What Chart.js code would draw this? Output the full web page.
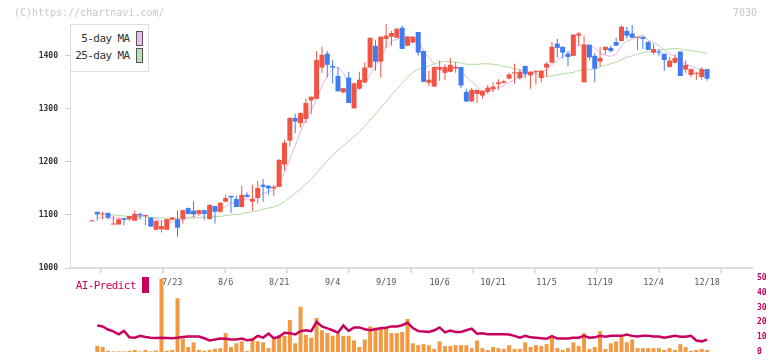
<!DOCTYPE html>
<html>
<head>
<meta charset="utf-8">
<script src="https://cdn.jsdelivr.net/npm/chart.js@4.4.1/dist/chart.umd.min.js"></script>
<style>
  body { margin: 0; background: #fff; }
  #wrap { position: relative; width: 772px; height: 361px; overflow: hidden; font-family: "DejaVu Sans Mono", monospace; }
  canvas { position: absolute; left: 0; top: 0; }
  .copy { position: absolute; left: 14px; top: 7px; font-size: 10px; line-height: 12px; color: #c8c8c8; }
  .code { position: absolute; right: 15px; top: 7px; font-size: 10px; line-height: 12px; color: #c8c8c8; }
  .maBox { position: absolute; left: 70px; top: 24px; width: 79px; height: 48px; box-sizing: border-box;
           border: 1.5px solid #ddd; background: #fff; }
  .maRow { position: absolute; right: 18.5px; font-size: 11px; letter-spacing: -0.6px; line-height: 12px; color: #333; }
  .sw { position: absolute; left: 64.5px; width: 7px; height: 15px; box-sizing: border-box; border: 1px solid #555; }
  .aiText { position: absolute; left: 75.7px; top: 280px; font-size: 11px; letter-spacing: -0.6px; line-height: 12px; color: #c8005f; }
  .aiBox { position: absolute; left: 142px; top: 277px; width: 7px; height: 16px; background: #c8005f; }
</style>
</head>
<body>
<div id="wrap">
  <canvas id="priceChart" width="772" height="361"></canvas>
  <canvas id="volChart" width="772" height="361"></canvas>
  <div class="copy">(C)https://chartnavi.com/</div>
  <div class="code">7030</div>
  <div class="maBox">
    <div class="maRow" style="top:7.5px">5-day MA</div>
    <div class="sw" style="top:5.5px;background:#f0bcf0"></div>
    <div class="maRow" style="top:24.5px">25-day MA</div>
    <div class="sw" style="top:22.5px;background:#b8e0b0"></div>
  </div>
  <div class="aiText">AI-Predict</div>
  <div class="aiBox"></div>
</div>
<script>
// trading days, 2025-07-01 .. 2025-12-18
const dates = [
  '7/1','7/2','7/3','7/4','7/7','7/8','7/9','7/10','7/11','7/14','7/15','7/16','7/17','7/18','7/22','7/23','7/24','7/25','7/28','7/29','7/30','7/31',
  '8/1','8/4','8/5','8/6','8/7','8/8','8/12','8/13','8/14','8/15','8/18','8/19','8/20','8/21','8/22','8/25','8/26','8/27','8/28','8/29',
  '9/1','9/2','9/3','9/4','9/5','9/8','9/9','9/10','9/11','9/12','9/16','9/17','9/18','9/19','9/22','9/24','9/25','9/26','9/29','9/30',
  '10/1','10/2','10/3','10/6','10/7','10/8','10/9','10/10','10/14','10/15','10/16','10/17','10/20','10/21','10/22','10/23','10/24','10/27','10/28','10/29','10/30','10/31',
  '11/4','11/5','11/6','11/7','11/10','11/11','11/12','11/13','11/14','11/17','11/18','11/19','11/20','11/21','11/25','11/26','11/27','11/28',
  '12/1','12/2','12/3','12/4','12/5','12/8','12/9','12/10','12/11','12/12','12/15','12/16','12/17','12/18'
];

const open = [1088,1106,1101,1104,1082,1082,1094,1092,1089,1102, 1098,1095,1072,1073,1072,1091,1092,1092,1113,1108,
  1102,1109,1092,1117,1106,1125,1136,1130,1115,1138, 1125,1132,1157,1155,1150,1153,1195,1240,1283,1273,
  1281,1316,1319,1378,1404,1381,1362,1331,1359,1301, 1338,1350,1378,1419,1389,1432,1436,1434,1453,1419,
  1425,1445,1409,1349,1342,1374,1368,1370,1376,1379, 1332,1314,1328,1325,1332,1337,1347,1349,1357,1367,
  1358,1381,1363,1370,1358,1378,1387,1423,1417,1404, 1400,1438,1350,1421,1400,1389,1411,1415,1426,1428,
  1447,1442,1434,1436,1426,1406,1408,1404,1379,1387, 1408,1374,1364,1366,1360,1375];
const high = [1088,1106,1106,1104,1098,1094,1094,1098,1108,1104, 1101,1095,1090,1089,1093,1096,1109,1110,1114,1126,
  1110,1110,1120,1117,1124,1138,1136,1136,1155,1143, 1157,1164,1168,1156,1157,1205,1242,1284,1291,1293,
  1319,1323,1409,1417,1409,1392,1379,1340,1370,1350, 1370,1388,1434,1430,1437,1460,1447,1453,1457,1437,
  1437,1445,1410,1372,1380,1391,1384,1396,1389,1379, 1338,1340,1336,1335,1345,1350,1356,1355,1368,1385,
  1374,1381,1371,1373,1373,1388,1426,1432,1417,1409, 1441,1445,1438,1421,1405,1417,1417,1419,1434,1457,
  1455,1458,1436,1436,1428,1423,1413,1404,1398,1402, 1408,1391,1376,1370,1379,1375];
const low = [1088,1089,1092,1092,1082,1082,1080,1089,1089,1091, 1080,1078,1072,1067,1072,1090,1059,1084,1101,1095,
  1100,1091,1092,1084,1105,1124,1104,1115,1114,1133, 1108,1121,1125,1138,1136,1152,1184,1229,1254,1265,
  1274,1291,1318,1368,1359,1348,1333,1330,1311,1300, 1337,1349,1377,1372,1359,1415,1419,1433,1413,1418,
  1424,1400,1350,1343,1341,1353,1355,1369,1368,1339, 1313,1313,1311,1319,1328,1332,1336,1348,1356,1348,
  1355,1358,1338,1346,1350,1360,1386,1397,1395,1381, 1399,1419,1350,1391,1350,1380,1402,1406,1419,1427,
  1432,1434,1411,1413,1411,1402,1400,1372,1378,1386, 1362,1368,1360,1355,1355,1353];
const close = [1088,1101,1102,1095,1083,1092,1091,1098,1102,1099, 1099,1078,1089,1079,1092,1095,1076,1109,1102,1101,
  1109,1102,1119,1106,1123,1132,1133,1115,1138,1134, 1130,1151,1153,1150,1153,1204,1236,1283,1276,1292,
  1311,1323,1392,1402,1383,1378,1333,1339,1311,1348, 1355,1378,1434,1389,1436,1438,1443,1451,1413,1436,
  1436,1406,1351,1355,1379,1379,1379,1383,1379,1344, 1314,1336,1336,1334,1340,1342,1350,1352,1365,1368,
  1370,1366,1370,1372,1372,1385,1417,1415,1406,1398, 1440,1442,1421,1397,1376,1396,1417,1409,1419,1455,
  1438,1434,1436,1432,1411,1413,1406,1392,1391,1396, 1362,1383,1375,1368,1375,1357];

const ma5 = [null,1095,1095,1094,1094,1095,1093,1092,1093,1096, 1098,1095,1093,1089,1087,1087,1086,1090,1095,1097,
  1099,1105,1107,1107,1112,1116,1123,1122,1128,1130, 1130,1134,1141,1144,1147,1162,1179,1205,1230,1258,
  1280,1297,1319,1344,1362,1376,1378,1367,1349,1342, 1337,1346,1365,1381,1398,1415,1428,1431,1436,1436,
  1436,1428,1408,1397,1385,1374,1369,1375,1380,1373, 1360,1351,1342,1333,1332,1338,1340,1344,1350,1355,
  1361,1364,1368,1369,1370,1373,1383,1392,1399,1404, 1415,1420,1421,1420,1415,1406,1401,1399,1403,1419,
  1428,1431,1436,1439,1430,1425,1420,1411,1403,1400, 1389,1385,1381,1377,1373,1372];
const ma25 = [null,null,null,1100,1100,1099,1098,1097,1097,1097, 1096,1095,1095,1094,1094,1094,1094,1094,1094,1094,
  1095,1096,1096,1097,1097,1099,1100,1101,1102,1105, 1106,1108,1111,1113,1115,1119,1125,1133,1141,1149,
  1158,1167,1179,1191,1202,1213,1222,1231,1239,1248, 1257,1267,1279,1290,1302,1314,1326,1338,1348,1359,
  1369,1375,1378,1381,1385,1388,1390,1389,1388,1387, 1384,1384,1384,1385,1385,1384,1383,1380,1379,1376,
  1374,1371,1367,1366,1363,1361,1362,1364,1366,1367, 1369,1372,1373,1374,1375,1379,1382,1385,1388,1393,
  1397,1400,1403,1406,1408,1409,1411,1412,1413,1414, 1413,1411,1410,1408,1407,1404];

const volume = [null,4.2,3.4,0.8,0.4,0.4,0.4,0.8,1.4,0.4, 1.4,0.4,1.0,49.5,0.8,1.4,36.3,9,3.4,6.5,
  1.4,0.8,1.4,2.2,2.6,12.8,3.4,5.9,7.2,0.6, 8.9,7.2,6.5,2.6,9.7,11.6,10.9,21.7,5.9,30.6,
  11.6,9.7,23.0,14.7,12.8,10.9,12.2,10.9,10.9,7.8, 3.4,8.4,17.3,16.6,16.6,16.6,12.8,12.8,13.5,22.3,
  5.9,4.6,5.3,4.6,2.1,7.2,4.0,4.0,4.6,4.6, 4.6,2.6,7.8,2.6,1.4,3.4,2.6,2.1,4.6,2.1,
  2.1,6.5,3.4,4.6,4.0,5.3,9.7,2.6,1.4,2.6, 6.5,4.0,12.8,2.1,3.4,14.1,2.1,5.9,7.2,10.3,
  6.5,8.4,2.6,2.6,2.6,2.6,2.6,1.4,2.6,1.4, 5.3,3.4,0.8,1.4,2.1,1.4];
const aiPredict = [null,17.9,17.3,15.2,13.9,12.0,14.3,9.9,9.7,10.9, 10.1,9.7,9.5,9.7,9.5,9.3,9.7,10.1,10.5,10.5,
  10.5,9.3,7.8,8.4,9.1,8.9,8.4,8.4,9.1,8.0, 8.4,10.9,9.7,12.4,9.3,10.3,13.0,12.6,11.8,14.1,
  14.7,14.1,20.4,17.3,16.0,14.7,13.0,17.9,14.3,16.6, 16.6,15.4,14.7,15.4,16.0,16.4,17.3,17.3,18.1,19.8,
  16.2,14.1,13.9,13.5,14.7,16.6,13.3,14.5,13.5,13.5, 14.7,15.8,12.4,12.6,12.0,12.0,12.0,12.0,11.8,10.9,
  9.7,10.9,9.9,9.7,9.3,8.9,10.7,9.1,9.1,9.1, 9.7,9.7,10.9,9.7,9.9,10.9,10.3,10.9,10.9,10.9,
  11.8,10.9,10.5,10.9,10.9,10.5,10.5,9.7,10.3,10.9, 10.3,10.3,10.9,7.8,7.2,8.4];

const tickDates = ['7/23','8/6','8/21','9/4','9/19','10/6','10/21','11/5','11/19','12/4','12/18'];
const priceTicks = [1000, 1100, 1200, 1300, 1400];
const predictTicks = [0, 10, 20, 30, 40, 50];

const mono = 'DejaVu Sans Mono';
const upColor = '#f25443';
const downColor = '#407cf0';
const magenta = '#c8005f';
const xMin = -4.1, xMax = 123.4;

const candleColors = close.map((c, i) => c >= open[i] ? upColor : downColor);
const pts = arr => arr.map((v, i) => ({ x: i, y: v }));

// price panel
new Chart(document.getElementById('priceChart'), {
  type: 'bar',
  data: {
    datasets: [
      { type: 'line', label: '5-day MA', data: pts(ma5), xAxisID: 'x', borderColor: '#e8b4ec', borderWidth: 1,
        pointRadius: 0, tension: 0, order: 4 },
      { type: 'line', label: '25-day MA', data: pts(ma25), xAxisID: 'x', borderColor: '#b2dba2', borderWidth: 1,
        pointRadius: 0, tension: 0, order: 3 },
      { label: 'wick', data: low.map((l, i) => ({ x: i, y: [l, high[i]] })), xAxisID: 'x', backgroundColor: candleColors,
        barThickness: 1, minBarLength: 1, grouped: false, inflateAmount: 0, order: 2 },
      { label: 'body', data: open.map((o, i) => ({ x: i, y: [o, close[i]] })), xAxisID: 'x', backgroundColor: candleColors,
        barThickness: 5, minBarLength: 1, grouped: false, inflateAmount: 0, order: 1 }
    ]
  },
  options: {
    responsive: false,
    animation: false,
    events: [],
    layout: { padding: { left: 0, right: 20, top: 24, bottom: 0 } },
    plugins: { legend: { display: false }, tooltip: { enabled: false } },
    scales: {
      x: {
        type: 'linear', position: 'bottom', weight: 1, min: xMin, max: xMax, offset: false,
        afterBuildTicks: s => { s.ticks = tickDates.map(d => ({ value: dates.indexOf(d) })); },
        afterFit: s => { s.height = 88; },
        grid: { display: false, drawTicks: false },
        border: { display: false },
        ticks: { autoSkip: false, maxRotation: 0, padding: 5, color: '#555',
                 font: { family: mono, size: 8.5 }, callback: v => dates[v] }
      },
      xg: {
        type: 'linear', position: 'bottom', weight: 0, min: 0, max: 11, offset: false,
        ticks: { display: false, stepSize: 1 },
        grid: { drawOnChartArea: false, tickLength: 5, color: '#dcdcdc', lineWidth: 2 },
        border: { color: '#dcdcdc', width: 2 },
        afterFit: s => { s.height = 5; }
      },
      y: {
        min: 1000, max: 1460,
        afterBuildTicks: s => { s.ticks = priceTicks.map(v => ({ value: v })); },
        afterFit: s => { s.width = 70; },
        grid: { drawOnChartArea: false, tickLength: 5, color: '#cccccc' },
        border: { color: '#e0e0e0', width: 1 },
        ticks: { padding: 7, color: '#333', font: { family: mono, size: 8, weight: 'bold' }, callback: v => String(v) }
      }
    }
  }
});

// volume + AI-Predict panel
new Chart(document.getElementById('volChart'), {
  type: 'bar',
  data: {
    datasets: [
      { type: 'line', label: 'AI-Predict', data: pts(aiPredict), borderColor: magenta, borderWidth: 2.5,
        pointRadius: 0, tension: 0, order: 1 },
      { label: 'volume', data: pts(volume), backgroundColor: '#f29a43', barThickness: 4,
        inflateAmount: 0, order: 2 }
    ]
  },
  options: {
    responsive: false,
    animation: false,
    events: [],
    layout: { padding: { left: 70, right: 0, top: 278, bottom: 4 } },
    plugins: { legend: { display: false }, tooltip: { enabled: false } },
    scales: {
      x: { type: 'linear', min: xMin, max: xMax, offset: false, display: false },
      y: {
        position: 'right', min: 0, max: 50,
        afterBuildTicks: s => { s.ticks = predictTicks.map(v => ({ value: v })); },
        afterFit: s => { s.width = 20; },
        grid: { display: false, drawTicks: false },
        border: { display: false },
        ticks: { padding: 5, color: magenta, font: { family: mono, size: 8, weight: 'bold', lineHeight: 1 } }
      }
    }
  }
});
</script>
</body>
</html>
